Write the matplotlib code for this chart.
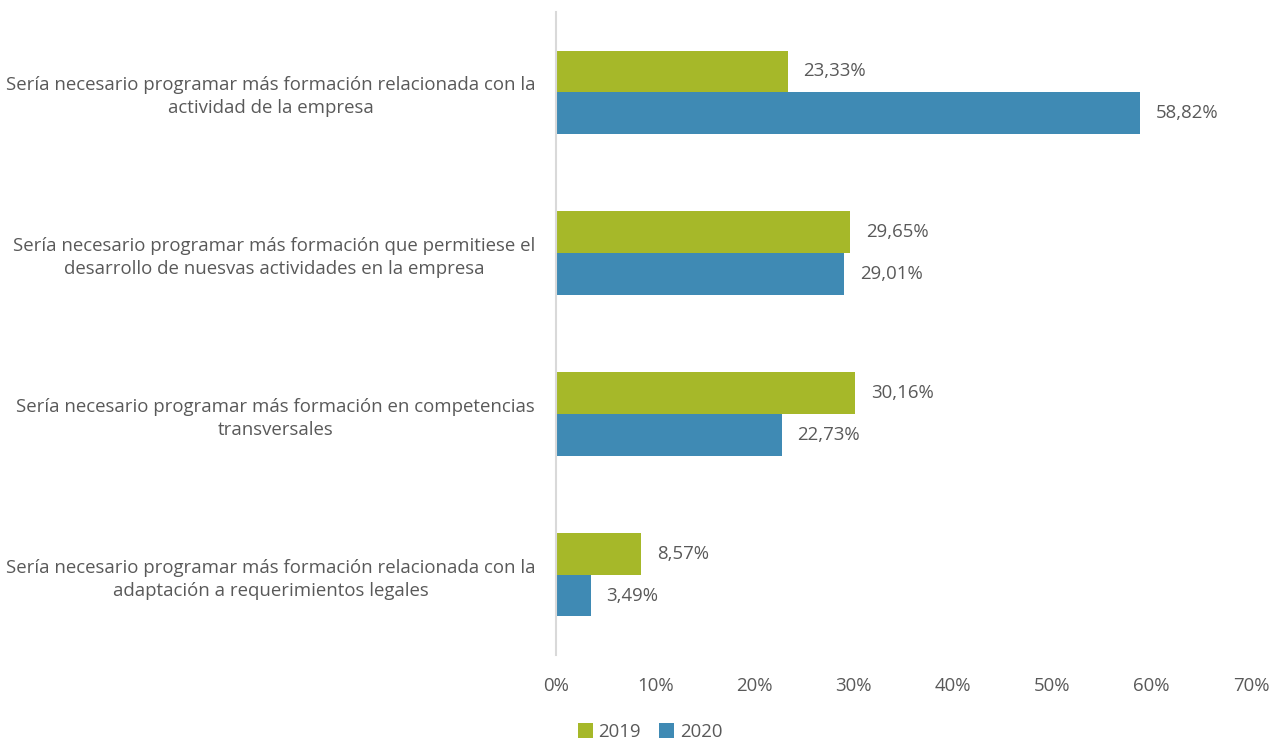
import matplotlib.pyplot as plt
import numpy as np

# datos
categorias = [
    'Sería necesario programar más formación relacionada con la\nactividad de la empresa',
    'Sería necesario programar más formación que permitiese el\ndesarrollo de nuesvas actividades en la empresa',
    'Sería necesario programar más formación en competencias\ntransversales',
    'Sería necesario programar más formación relacionada con la\nadaptación a requerimientos legales',
]
v2019 = [23.33, 29.65, 30.16, 8.57]
v2020 = [58.82, 29.01, 22.73, 3.49]
series = ['2019', '2020']
x_ticks = [0, 10, 20, 30, 40, 50, 60, 70]

verde = '#A6B829'
azul = '#3F8AB4'
gris = '#595959'
fs = 13.4

plt.rcParams['font.family'] = ['Open Sans', 'DejaVu Sans']

fig = plt.figure(figsize=(12.73, 7.40), dpi=100)
ax = fig.add_axes([556/1273, 1-655/740, 695/1273, 643/740])

y = np.arange(len(categorias))
h = 0.26
b1 = ax.barh(y - h/2, v2019, height=h, color=verde, label=series[0])
b2 = ax.barh(y + h/2, v2020, height=h, color=azul, label=series[1])

for bars, vals in [(b1, v2019), (b2, v2020)]:
    for bar, v in zip(bars, vals):
        ax.text(v + 1.6, bar.get_y() + bar.get_height()/2,
                ('%.2f' % v).replace('.', ',') + '%',
                va='center', ha='left', fontsize=fs, color=gris)

ax.set_ylim(len(categorias) - 0.5, -0.5)
ax.set_xlim(0, 70)
ax.set_yticks(y)
ax.set_yticklabels(categorias, fontsize=fs, color=gris, multialignment='center', linespacing=1.35)
ax.set_xticks(x_ticks)
ax.set_xticklabels(['%d%%' % t for t in x_ticks], fontsize=fs, color=gris)
ax.tick_params(axis='both', length=0)
ax.tick_params(axis='y', pad=15)
ax.tick_params(axis='x', pad=16)

for s in ['top', 'right', 'bottom']:
    ax.spines[s].set_visible(False)
ax.spines['left'].set_color('#D9D9D9')
ax.spines['left'].set_linewidth(1.5)

fig.legend(handles=[b1, b2], labels=series, loc='center', bbox_to_anchor=(650/1273, 1-732/740),
           ncol=2, frameon=False, fontsize=fs, handlelength=0.8, handleheight=0.8,
           handletextpad=0.3, columnspacing=1.0, labelcolor=gris)

plt.savefig('out.png', dpi=100)
